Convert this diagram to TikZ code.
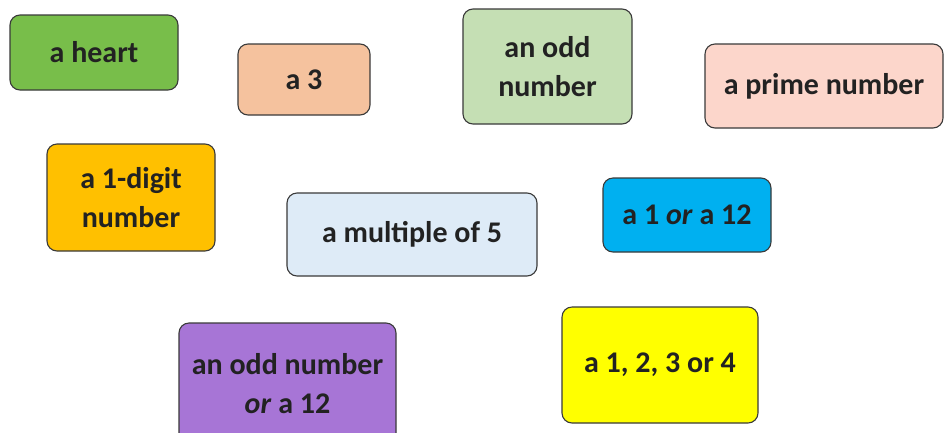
\documentclass[tikz,border=0pt]{standalone}
\usepackage{fontspec}
\setmainfont{Carlito}
\definecolor{cgreen}{HTML}{78BE4A}
\definecolor{cpeach}{HTML}{F5C29E}
\definecolor{clgreen}{HTML}{C5DFB4}
\definecolor{cpink}{HTML}{FCD6CB}
\definecolor{corange}{HTML}{FFC000}
\definecolor{clblue}{HTML}{DEEBF7}
\definecolor{cblue}{HTML}{00B0F0}
\definecolor{cpurple}{HTML}{A775D6}
\definecolor{cyellow}{HTML}{FFFF00}
\definecolor{cborder}{HTML}{3A3A3A}
\definecolor{ctext}{HTML}{222222}
\tikzset{card/.style={draw=cborder, line width=1.1pt, rounded corners=10pt,
  font=\bfseries\fontsize{30}{39}\selectfont, align=center, inner sep=0pt,
  text=ctext}}
\begin{document}
\begin{tikzpicture}[x=1pt,y=-1pt]
\useasboundingbox (0,0) rectangle (944,432);
\clip (0,0) rectangle (944,432);
\fill[white] (0,0) rectangle (944,432);
\node[card, fill=cgreen, minimum width=168pt, minimum height=75pt] (heart) at (94,52.5) {a heart};
\node[card, fill=cpeach, minimum width=132pt, minimum height=71pt] (three) at (304,79.5) {a 3};
\node[card, fill=clgreen, minimum width=169pt, minimum height=115pt] (odd) at (547.5,66.5) {an odd\\number};
\node[card, fill=cpink, minimum width=238pt, minimum height=84pt] (prime) at (824,86) {a prime number};
\node[card, fill=corange, minimum width=168pt, minimum height=107pt] (digit) at (131,197.5) {a 1-digit\\number};
\node[card, fill=clblue, minimum width=250pt, minimum height=83pt] (mult) at (412,234.5) {a multiple of 5};
\node[card, fill=cblue, minimum width=168pt, minimum height=74pt] (onetwelve) at (687,215) {a 1 \textit{or} a 12};
\node[card, fill=cpurple, minimum width=217pt, minimum height=122pt] (oddtwelve) at (287.5,384) {an odd number\\\textit{or} a 12};
\node[card, fill=cyellow, minimum width=196pt, minimum height=116pt] (yellow) at (660,365) {a 1, 2, 3 or 4};
\end{tikzpicture}
\end{document}
